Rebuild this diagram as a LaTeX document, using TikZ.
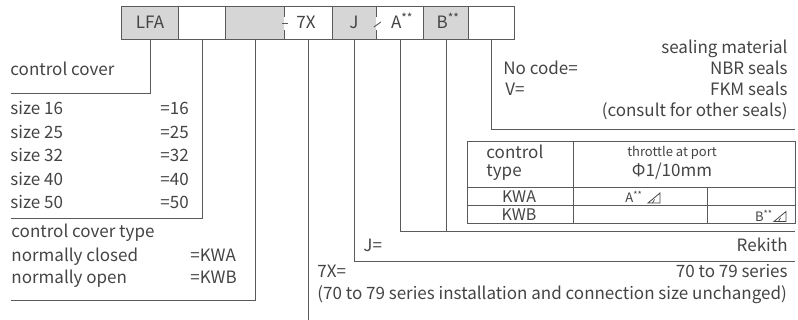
\documentclass[tikz,border=0pt]{standalone}
\usepackage{fontspec}
\setmainfont{Noto Sans CJK SC}
\definecolor{linec}{HTML}{5A5A5A}
\definecolor{txtc}{HTML}{444444}
\definecolor{cellg}{HTML}{D6D6D6}
\newcommand{\stars}{\textsuperscript{**}}
\begin{document}
\begin{tikzpicture}[x=1pt,y=-1pt,line width=0.9pt,
  ln/.style={draw=linec},
  cellbox/.style={fill=#1,draw=none,minimum height=33pt,inner sep=0pt,anchor=north west},
  txt/.style={inner sep=0pt,font=\fontsize{17}{20}\selectfont,text=txtc},
  mid/.style={inner sep=0pt,font=\fontsize{16}{18}\selectfont,text=txtc},
  lt/.style={txt,anchor=base west},
  rt/.style={txt,anchor=base east},
  small/.style={inner sep=0pt,font=\fontsize{13}{15}\selectfont,text=txtc}]
\useasboundingbox (0,0) rectangle (798,320);
% code boxes
\node[cellbox=cellg,minimum width=57pt] (c1) at (121,6) {};
\node[cellbox=white,minimum width=47pt] (c2) at (178,6) {};
\node[cellbox=cellg,minimum width=59pt] (c3) at (225,6) {};
\node[cellbox=white,minimum width=48pt] (c4) at (284,6) {};
\node[cellbox=cellg,minimum width=44pt] (c5) at (332,6) {};
\node[cellbox=white,minimum width=47pt] (c6) at (376,6) {};
\node[cellbox=cellg,minimum width=45pt] (c7) at (423,6) {};
\node[cellbox=white,minimum width=46pt] (c8) at (468,6) {};
\draw[ln] (c1.north west) rectangle (c8.south east);
\draw[ln] (c1.north east) -- (c1.south east);
\draw[ln] (c2.north east) -- (c2.south east);
\draw[ln] (c4.north east) -- (c4.south east);
\draw[ln] (c6.north east) -- (c6.south east);
\draw[ln] (c7.north east) -- (c7.south east);
% broken dividers
\draw[ln] (c3.north east) -- ++(0,11);
\draw[ln] (c3.south east) -- ++(0,-10);
\draw[ln] ([xshift=-3pt,yshift=-17pt]c3.north east) -- ++(6.5,0);
\draw[ln] (c5.north east) -- ++(0,11);
\draw[ln] (c5.south east) -- ++(0,-10);
\draw[ln] ([xshift=-3pt,yshift=-21pt]c5.north east) -- ++(7,-5);
% box texts
\node[txt,anchor=base] (tLFA) at (150,29) {LFA};
\node[txt,anchor=base] (t7X) at (306,29) {7X};
\node[txt,anchor=base] (tJ) at (354,29) {J};
\node[txt,anchor=base] (tA) at (402,29) {A\stars};
\node[txt,anchor=base] (tB) at (448,29) {B\stars};
% end points of connectors
\coordinate (e1) at (11,93);
\coordinate (e2) at (11,218);
\coordinate (e3) at (11,300);
\coordinate (e4) at (308,320);
\coordinate (e5) at (795,261);
\coordinate (e6) at (795,231);
\coordinate (e8) at (795,129);
\draw[ln] (c1.south) |- (e1);
\draw[ln] (c2.south) |- (e2);
\draw[ln] (c3.south) |- (e3);
\draw[ln] (c4.south) -- (c4.south |- e4);
\draw[ln] (c5.south) |- (e5);
\draw[ln] (c6.south) |- (e6);
\draw[ln] (c7.south) -- (c7.south |- e6);
\draw[ln] (c8.south) |- (e8);
% left texts
\node[lt] (cc) at (10,76) {control cover};
\foreach \s/\yy in {16/115,25/138.5,32/162,40/185.5,50/209}{
  \node[lt] (s\s) at (10,\yy) {size \s};
  \node[lt] (v\s) at (160,\yy) {=\s};
}
\node[lt] (cct) at (11,238) {control cover type};
\node[lt] (nc) at (11,262) {normally closed};
\node[lt] (no) at (11,284) {normally open};
\node[lt] (kwa) at (190,262) {=KWA};
\node[lt] (kwb) at (190,284) {=KWB};
% sealing
\node[rt] (sm) at (788,54) {sealing material};
\node[lt] (ncd) at (503,75) {No code=};
\node[rt] (nbr) at (788,75) {NBR seals};
\node[lt] (vv) at (505,96) {V=};
\node[rt] (fkm) at (788,96) {FKM seals};
\node[rt] (cons) at (788,117) {(consult for other seals)};
% table
\draw[ln] (467,141) rectangle (795,223);
\draw[ln] (467,187) -- (795,187);
\draw[ln] (467,205) -- (795,205);
\draw[ln] (573,141) -- (573,223);
\draw[ln] (707,187) -- (707,223);
\node[lt] (ct1) at (486,159) {control};
\node[lt] (ct2) at (486,177) {type};
\node[small,anchor=base] (thr) at (672,157) {throttle at port};
\node[txt,anchor=base] (phi) at (672,177) {Φ1/10mm};
\node[mid,anchor=base] (tk1) at (519,202.5) {KWA};
\node[mid,anchor=base] (tk2) at (519,221) {KWB};
\node[small,anchor=base west] (ta) at (625,203) {A\stars};
\node[small,anchor=base east] (tb) at (773,221.5) {B\stars};
\draw[draw=txtc,line width=0.8pt,line join=miter] (648,203) -- (660,203) -- (660,193) -- cycle;
\draw[draw=txtc,line width=0.7pt] (652.5,203) -- (654.5,199.5);
\draw[draw=txtc,line width=0.8pt,line join=miter] (774,221.5) -- (786,221.5) -- (786,211.5) -- cycle;
\draw[draw=txtc,line width=0.7pt] (778.5,221.5) -- (780.5,218);
% J and 7X
\node[lt] (jj) at (363,252) {J=};
\node[rt] (rek) at (788,252) {Rekith};
\node[lt] (sx) at (317,278) {7X=};
\node[rt] (ser) at (788,278) {70 to 79 series};
\node[lt] (inst) at (317,300) {(70 to 79 series installation and connection size unchanged)};
\end{tikzpicture}
\end{document}
